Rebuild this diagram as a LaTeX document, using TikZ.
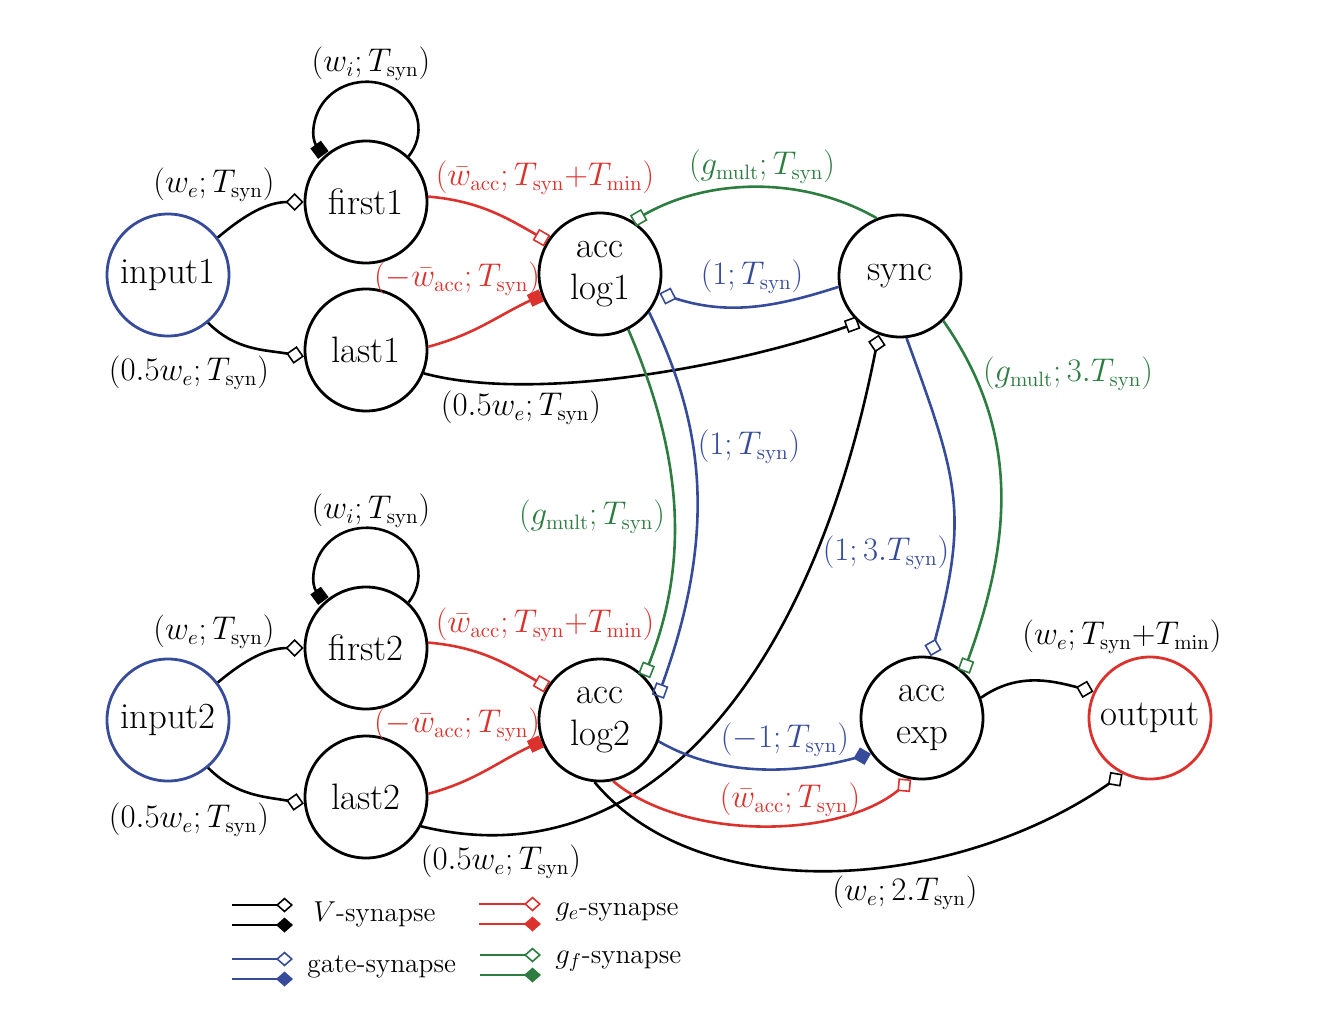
\documentclass[tikz,border=0pt]{standalone}
\usetikzlibrary{arrows.meta}
\definecolor{myblue}{RGB}{55,75,155}
\definecolor{myred}{RGB}{220,50,45}
\definecolor{mygreen}{RGB}{45,125,65}
\newcommand{\lbl}[1]{\scalebox{0.95}{#1}}
\begin{document}
\begin{tikzpicture}[x=0.5pt,y=0.5pt,
  neuron/.style={circle, draw, line width=1.4pt, minimum size=61pt, inner sep=0pt,
    font=\fontsize{18.4}{21}\selectfont, align=center},
  lab/.style={font=\fontsize{16}{19}\selectfont, inner sep=1pt},
  leg/.style={font=\fontsize{13.7}{16}\selectfont, inner sep=0pt, anchor=west},
  syn/.style={line width=1.3pt},
  selfloop/.style={syn,vsf},
  vd/.style={-{Diamond[open,length=9pt,width=9pt,line width=0.8pt]}},
  vdf/.style={-{Diamond[length=9pt,width=9pt]}},
  vs/.style={-{Square[open,length=6.5pt,width=6.5pt,line width=0.8pt]}},
  vsf/.style={-{Square[length=6.5pt,width=6.5pt]}},
  ld/.style={-{Diamond[open,length=8.5pt,width=7.5pt,line width=0.8pt]}},
  ldf/.style={-{Diamond[length=8.5pt,width=7.5pt]}}
]
\useasboundingbox (0,0) rectangle (1320,-1022);

% nodes
\node[neuron, draw=myblue] (input1) at (168,-275) {input1};
\node[neuron] (first1) at (366,-202) {first1};
\node[neuron] (last1) at (366,-350) {last1};
\node[neuron] (acclog1) at (600,-274) {acc\\log1};
\node[neuron] (sync) at (900,-276) {sync};
\node[neuron, draw=myblue] (input2) at (168,-720) {input2};
\node[neuron] (first2) at (366,-648) {first2};
\node[neuron] (last2) at (366,-797) {last2};
\node[neuron] (acclog2) at (600,-720) {acc\\log2};
\node[neuron] (accexp) at (922,-718) {acc\\exp};
\node[neuron, draw=myred] (output) at (1150,-718) {output};

% upper block
\draw[syn,vd] (input1.37) to[out=40,in=180] (first1.180);
\draw[syn,vd] (input1.-50) to[out=-45,in=170] (last1.186);
\draw[selfloop] (first1.47) arc[start angle=-36, end angle=214, x radius=52, y radius=47];
\draw[syn,myred,vs] (first1.5) to[out=-5,in=150] (acclog1.148);
\draw[syn,myred,vsf] (last1.3) to[out=15,in=205] (acclog1.200);
\draw[syn,mygreen,vs] (sync.112) to[out=150,in=30,looseness=0.9] (acclog1.58);
\draw[syn,myblue,vd] (sync.190) to[out=198,in=-18] (acclog1.-18);
\draw[syn,vs] (last1.-22) to[out=-15,in=200,looseness=0.7] (sync.228);
\draw[syn,mygreen,vs] (acclog1.-63) .. controls +(45,-105) and +(52,130) .. (acclog2.45);
\draw[syn,myblue,vs] (acclog1.-38) .. controls +(48,-99) and +(65,179) .. (acclog2.22);
\draw[syn,myblue,vd] (sync.-84) to[out=-70,in=75,looseness=1.2] (accexp.82);
\draw[syn,mygreen,vs] (sync.-46) to[out=-55,in=70] (accexp.48);

% lower block
\draw[syn,vd] (input2.37) to[out=40,in=180] (first2.180);
\draw[syn,vd] (input2.-50) to[out=-45,in=170] (last2.186);
\draw[selfloop] (first2.47) arc[start angle=-36, end angle=214, x radius=52, y radius=47];
\draw[syn,myred,vs] (first2.5) to[out=-5,in=150] (acclog2.148);
\draw[syn,myred,vsf] (last2.3) to[out=15,in=205] (acclog2.200);
\draw[syn,vd] (last2.-28) .. controls +(223,-55) and +(-67,-343) .. (sync.250);
\draw[syn,myblue,vdf] (acclog2.-20) to[out=-30,in=195,looseness=0.9] (accexp.215);
\draw[syn,myred,vd] (acclog2.-78) to[out=-40,in=220,looseness=0.8] (accexp.260);
\draw[syn,vd] (acclog2.-95) to[out=-50,in=215,out looseness=0.82,in looseness=0.97] (output.244);
\draw[syn,vd] (accexp.19) to[out=35,in=165] (output.155);

% labels upper
\node[lab] at (371,-64) {\lbl{$(w_i;T_{\mathrm{syn}})$}};
\node[lab] at (214,-185) {\lbl{$(w_e;T_{\mathrm{syn}})$}};
\node[lab] at (189,-373) {\lbl{$(0.5w_e;T_{\mathrm{syn}})$}};
\node[lab,text=myred] at (545,-178) {\lbl{$(\bar{w}_{\mathrm{acc}};T_{\mathrm{syn}}{+}T_{\mathrm{min}})$}};
\node[lab,text=myred] at (457,-279) {\lbl{$(-\bar{w}_{\mathrm{acc}};T_{\mathrm{syn}})$}};
\node[lab] at (521,-408) {\lbl{$(0.5w_e;T_{\mathrm{syn}})$}};
\node[lab,text=mygreen] at (762,-167) {\lbl{$(g_{\mathrm{mult}};T_{\mathrm{syn}})$}};
\node[lab,text=myblue] at (752,-277) {\lbl{$(1;T_{\mathrm{syn}})$}};
\node[lab,text=mygreen] at (1068,-374) {\lbl{$(g_{\mathrm{mult}};3.T_{\mathrm{syn}})$}};
\node[lab,text=myblue] at (749,-447) {\lbl{$(1;T_{\mathrm{syn}})$}};
\node[lab,text=mygreen] at (592,-517) {\lbl{$(g_{\mathrm{mult}};T_{\mathrm{syn}})$}};
\node[lab,text=myblue] at (886,-553) {\lbl{$(1;3.T_{\mathrm{syn}})$}};

% labels lower
\node[lab] at (371,-511) {\lbl{$(w_i;T_{\mathrm{syn}})$}};
\node[lab] at (214,-632) {\lbl{$(w_e;T_{\mathrm{syn}})$}};
\node[lab] at (189,-820) {\lbl{$(0.5w_e;T_{\mathrm{syn}})$}};
\node[lab,text=myred] at (545,-625) {\lbl{$(\bar{w}_{\mathrm{acc}};T_{\mathrm{syn}}{+}T_{\mathrm{min}})$}};
\node[lab,text=myred] at (457,-725) {\lbl{$(-\bar{w}_{\mathrm{acc}};T_{\mathrm{syn}})$}};
\node[lab] at (501,-862) {\lbl{$(0.5w_e;T_{\mathrm{syn}})$}};
\node[lab] at (1122,-637) {\lbl{$(w_e;T_{\mathrm{syn}}{+}T_{\mathrm{min}})$}};
\node[lab,text=myblue] at (785,-740) {\lbl{$(-1;T_{\mathrm{syn}})$}};
\node[lab,text=myred] at (790,-800) {\lbl{$(\bar{w}_{\mathrm{acc}};T_{\mathrm{syn}})$}};
\node[lab] at (905,-893) {\lbl{$(w_e;2.T_{\mathrm{syn}})$}};

% legend
\coordinate (lva) at (232,-905); \coordinate (lvb) at (293,-905);
\coordinate (lvc) at (232,-925); \coordinate (lvd) at (293,-925);
\coordinate (lea) at (479,-904); \coordinate (leb) at (541,-904);
\coordinate (lec) at (479,-924); \coordinate (led) at (541,-924);
\coordinate (lga) at (232,-959); \coordinate (lgb) at (293,-959);
\coordinate (lgc) at (232,-979); \coordinate (lgd) at (293,-979);
\coordinate (lfa) at (480,-955); \coordinate (lfb) at (541,-955);
\coordinate (lfc) at (480,-975); \coordinate (lfd) at (541,-975);
\draw[syn,ld] (lva) -- (lvb);
\draw[syn,ldf] (lvc) -- (lvd);
\draw[syn,myred,ld] (lea) -- (leb);
\draw[syn,myred,ldf] (lec) -- (led);
\draw[syn,myblue,ld] (lga) -- (lgb);
\draw[syn,myblue,ldf] (lgc) -- (lgd);
\draw[syn,mygreen,ld] (lfa) -- (lfb);
\draw[syn,mygreen,ldf] (lfc) -- (lfd);
\node[leg] at (313,-914) {$V$-synapse};
\node[leg] at (555,-912) {$g_e$-synapse};
\node[leg] at (307,-967) {gate-synapse};
\node[leg] at (555,-961) {$g_f$-synapse};
\end{tikzpicture}
\end{document}
